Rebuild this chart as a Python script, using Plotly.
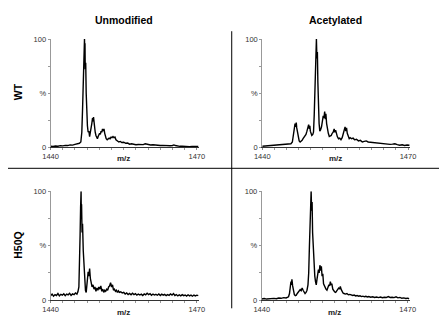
import plotly.graph_objects as go

# ---------------- data (m/z, relative intensity %) ----------------
COL_TITLES = ["Unmodified", "Acetylated"]
ROW_TITLES = ["WT", "H50Q"]
X_TICKS = [1440, 1470]
Y_TICK_LABELS = ["0", "", "%", "", "100"]
Y_TICK_VALS = [0, 25, 50, 75, 100]

WT_UNMOD = [
    (1440.0, 1.0), (1440.5, 0.8), (1441.0, 1.3), (1441.5, 1.1), (1442.0, 1.6), (1442.5, 1.4),
    (1443.0, 1.9), (1443.5, 1.7), (1444.0, 2.3), (1444.5, 2.1), (1445.0, 2.8), (1445.5, 3.0),
    (1445.9, 3.8), (1446.2, 5.0), (1446.4, 14), (1446.55, 35), (1446.7, 62), (1446.8, 80),
    (1446.9, 93), (1446.95, 100), (1447.0, 88), (1447.05, 96), (1447.1, 72), (1447.2, 78),
    (1447.3, 50), (1447.4, 34), (1447.55, 20), (1447.7, 14), (1447.85, 15), (1448.0, 10),
    (1448.15, 13), (1448.3, 18), (1448.45, 22), (1448.6, 27), (1448.7, 24), (1448.8, 28),
    (1448.9, 22), (1449.0, 19), (1449.15, 14), (1449.3, 11), (1449.45, 9), (1449.6, 8),
    (1449.75, 10), (1449.9, 11), (1450.05, 13), (1450.2, 12), (1450.35, 15), (1450.5, 14),
    (1450.65, 17), (1450.8, 15), (1450.95, 17), (1451.1, 13), (1451.25, 10), (1451.4, 8),
    (1451.6, 7), (1451.8, 7.5), (1452.0, 8.5), (1452.2, 8), (1452.4, 9.5), (1452.6, 9),
    (1452.8, 10), (1453.0, 9), (1453.2, 9.5), (1453.4, 7), (1453.7, 6), (1454.0, 5),
    (1454.3, 5.5), (1454.6, 4.5), (1455.0, 4.8), (1455.4, 3.8), (1455.8, 4), (1456.2, 3),
    (1456.6, 3.3), (1457.0, 2.8), (1457.5, 2.5), (1458.0, 2.7), (1458.5, 2.4), (1459.0, 2.6),
    (1459.4, 3.3), (1459.7, 3.0), (1460.0, 2.5), (1460.5, 2.2), (1461.0, 2.4), (1461.5, 2.0),
    (1462.0, 2.1), (1462.5, 1.8), (1463.0, 1.9), (1463.5, 1.6), (1464.0, 1.7), (1464.5, 1.5),
    (1465.0, 1.8), (1465.3, 2.3), (1465.6, 1.7), (1466.0, 1.3), (1466.5, 1.0), (1467.0, 1.1),
    (1467.5, 0.8), (1468.0, 0.9), (1468.5, 0.7), (1469.0, 0.9), (1469.5, 0.8), (1470.0, 1.0),
    (1470.3, 0.9),
]

WT_ACET = [
    (1440.0, 1.0), (1440.5, 1.2), (1441.0, 1.4), (1441.5, 1.3), (1442.0, 1.7), (1442.5, 1.6),
    (1443.0, 2.0), (1443.5, 1.9), (1444.0, 2.3), (1444.5, 2.4), (1445.0, 2.7), (1445.5, 2.9),
    (1445.9, 3.4), (1446.2, 5.0), (1446.4, 10), (1446.6, 17), (1446.75, 22), (1446.9, 19),
    (1447.0, 23), (1447.1, 18), (1447.25, 14), (1447.4, 9), (1447.6, 6), (1447.8, 5),
    (1448.0, 5.5), (1448.2, 6.5), (1448.4, 8), (1448.6, 9.5), (1448.8, 11), (1449.0, 12),
    (1449.2, 15), (1449.4, 18), (1449.55, 21), (1449.7, 17), (1449.8, 20), (1449.9, 15),
    (1450.05, 13), (1450.2, 11), (1450.4, 12), (1450.55, 14), (1450.7, 30), (1450.85, 60),
    (1450.95, 85), (1451.05, 95), (1451.15, 100), (1451.25, 82), (1451.35, 88), (1451.45, 60),
    (1451.55, 40), (1451.7, 22), (1451.85, 15), (1452.0, 16), (1452.2, 19), (1452.4, 24),
    (1452.55, 29), (1452.7, 27), (1452.85, 33), (1453.0, 26), (1453.1, 31), (1453.25, 22),
    (1453.4, 17), (1453.6, 13), (1453.8, 10), (1454.0, 10.5), (1454.2, 11), (1454.4, 13),
    (1454.6, 14), (1454.8, 17), (1454.95, 14), (1455.1, 16), (1455.25, 12), (1455.45, 10),
    (1455.7, 8), (1455.95, 8.5), (1456.2, 7), (1456.45, 9), (1456.7, 13), (1456.9, 16),
    (1457.05, 19), (1457.2, 15), (1457.35, 18), (1457.5, 13), (1457.7, 10), (1457.9, 8),
    (1458.1, 9), (1458.4, 8), (1458.7, 8.5), (1459.0, 7), (1459.4, 7.5), (1459.8, 6),
    (1460.2, 6.5), (1460.6, 5), (1461.0, 5.5), (1461.4, 6), (1461.8, 5), (1462.2, 4.8),
    (1462.6, 4.2), (1463.0, 4.5), (1463.4, 4.3), (1463.8, 3.5), (1464.3, 3.2), (1464.8, 3.4),
    (1465.3, 2.7), (1465.8, 2.5), (1466.3, 2.8), (1466.8, 3.0), (1467.3, 3.3), (1467.8, 2.6),
    (1468.3, 2.0), (1468.8, 2.4), (1469.3, 1.8), (1469.8, 2.2), (1470.3, 2.0),
]

H50Q_UNMOD = [
    (1440.0, 4.0), (1440.3, 5.5), (1440.6, 3.5), (1440.9, 5.0), (1441.2, 4.2), (1441.5, 6.0),
    (1441.8, 3.8), (1442.1, 5.2), (1442.4, 4.5), (1442.7, 5.8), (1443.0, 4.0), (1443.3, 5.5),
    (1443.6, 4.8), (1443.9, 6.2), (1444.2, 4.3), (1444.5, 5.6), (1444.8, 5.0), (1445.1, 6.5),
    (1445.4, 5.5), (1445.6, 7.5), (1445.8, 12), (1445.95, 30), (1446.05, 60), (1446.15, 85),
    (1446.25, 100), (1446.3, 75), (1446.35, 88), (1446.45, 62), (1446.55, 70), (1446.7, 45),
    (1446.85, 30), (1447.0, 18), (1447.15, 9), (1447.3, 7), (1447.5, 14), (1447.7, 26),
    (1447.85, 22), (1448.0, 29), (1448.15, 20), (1448.3, 17), (1448.5, 12), (1448.7, 14),
    (1448.9, 10), (1449.1, 12), (1449.3, 8), (1449.5, 11), (1449.7, 9), (1449.9, 12),
    (1450.1, 10), (1450.3, 13), (1450.5, 8), (1450.7, 10), (1450.9, 7), (1451.1, 9),
    (1451.3, 8), (1451.5, 10), (1451.7, 9), (1451.9, 12), (1452.1, 13), (1452.3, 16),
    (1452.5, 12), (1452.7, 14), (1452.9, 9), (1453.1, 10), (1453.3, 8), (1453.5, 9),
    (1453.7, 7), (1453.9, 8.5), (1454.1, 7), (1454.4, 7.5), (1454.7, 6.5), (1455.0, 7),
    (1455.3, 5.5), (1455.6, 6.5), (1455.9, 5), (1456.2, 6), (1456.5, 4.8), (1456.8, 6.2),
    (1457.1, 5), (1457.4, 5.8), (1457.7, 4.5), (1458.0, 5.5), (1458.3, 4.6), (1458.6, 5.4),
    (1458.9, 4.2), (1459.2, 5.6), (1459.5, 4.8), (1459.8, 6.2), (1460.1, 5), (1460.4, 5.8),
    (1460.7, 4.4), (1461.0, 5.5), (1461.3, 4.6), (1461.6, 5.2), (1461.9, 4.4), (1462.2, 5.6),
    (1462.5, 4.2), (1462.8, 5.4), (1463.1, 4.5), (1463.4, 5.2), (1463.7, 4.0), (1464.0, 5.0),
    (1464.3, 4.3), (1464.6, 5.6), (1464.9, 4.5), (1465.2, 6.0), (1465.5, 4.2), (1465.8, 5.0),
    (1466.1, 3.8), (1466.4, 4.8), (1466.7, 3.9), (1467.0, 5.0), (1467.3, 4.0), (1467.6, 4.6),
    (1467.9, 3.6), (1468.2, 4.8), (1468.5, 3.8), (1468.8, 4.5), (1469.1, 3.5), (1469.4, 4.6),
    (1469.7, 3.8), (1470.0, 4.5), (1470.3, 4.0),
]

H50Q_ACET = [
    (1440.0, 1.0), (1440.5, 1.4), (1441.0, 0.9), (1441.5, 1.3), (1442.0, 1.1), (1442.5, 1.5),
    (1443.0, 1.2), (1443.5, 1.9), (1444.0, 1.6), (1444.5, 2.2), (1445.0, 1.9), (1445.3, 2.4),
    (1445.5, 3.0), (1445.7, 6), (1445.85, 12), (1446.0, 17), (1446.1, 14), (1446.2, 19),
    (1446.35, 13), (1446.5, 9), (1446.7, 5), (1446.9, 4), (1447.1, 4.5), (1447.3, 6),
    (1447.5, 7.5), (1447.7, 8), (1447.9, 9.5), (1448.1, 8.5), (1448.3, 11), (1448.5, 9),
    (1448.7, 7), (1448.9, 6), (1449.1, 7), (1449.3, 9), (1449.5, 14), (1449.65, 25),
    (1449.8, 50), (1449.95, 78), (1450.05, 90), (1450.15, 100), (1450.25, 82), (1450.35, 90),
    (1450.45, 62), (1450.6, 45), (1450.75, 33), (1450.9, 22), (1451.05, 17), (1451.2, 14),
    (1451.35, 19), (1451.5, 24), (1451.65, 28), (1451.8, 25), (1451.95, 32), (1452.1, 27),
    (1452.25, 31), (1452.4, 22), (1452.55, 24), (1452.7, 15), (1452.85, 13), (1453.0, 11),
    (1453.2, 10), (1453.4, 9), (1453.6, 11), (1453.8, 14), (1453.95, 13), (1454.1, 17),
    (1454.25, 14), (1454.4, 15), (1454.6, 10), (1454.8, 8), (1455.0, 7.5), (1455.2, 7),
    (1455.4, 8), (1455.6, 10), (1455.8, 11), (1456.0, 10), (1456.15, 12.5), (1456.3, 10),
    (1456.5, 8), (1456.7, 6.5), (1456.9, 6), (1457.2, 5.5), (1457.5, 6), (1457.8, 4.8),
    (1458.1, 5.2), (1458.4, 4.5), (1458.7, 4.2), (1459.0, 4.6), (1459.3, 3.8), (1459.6, 4.2),
    (1459.9, 3.5), (1460.2, 3.9), (1460.5, 3.2), (1460.8, 3.6), (1461.1, 3.0), (1461.4, 3.4),
    (1461.7, 2.8), (1462.0, 3.2), (1462.4, 2.6), (1462.8, 3.0), (1463.2, 2.4), (1463.6, 2.8),
    (1464.0, 2.2), (1464.4, 2.7), (1464.8, 2.1), (1465.2, 2.6), (1465.6, 2.3), (1466.0, 3.2),
    (1466.4, 2.4), (1466.8, 2.6), (1467.2, 2.2), (1467.6, 2.9), (1468.0, 2.0), (1468.4, 2.4),
    (1468.8, 1.6), (1469.2, 2.0), (1469.6, 1.4), (1470.0, 1.7), (1470.3, 1.2),
]

SPECTRA = [WT_UNMOD, WT_ACET, H50Q_UNMOD, H50Q_ACET]

# ---------------- layout geometry (pixels) ----------------
W, H = 445, 324
# (x_left, x_right, y_top(100%), y_bottom(0%)) in pixels
PANELS = [
    (44, 197, 36, 147.5),
    (262.5, 415, 36, 147.5),
    (44, 197, 192.5, 304.5),
    (262, 414.7, 192.5, 304.5),
]

def px(x):
    return x / W

def py(y):
    return 1 - y / H

FONT = "Liberation Sans, Arial, sans-serif"

fig = go.Figure()
layout = dict(
    width=W, height=H,
    margin=dict(l=0, r=0, t=0, b=0),
    paper_bgcolor="white", plot_bgcolor="white",
    showlegend=False,
    font=dict(family=FONT, color="#222"),
)

for i, (spec, (xl, xr, yt, yb)) in enumerate(zip(SPECTRA, PANELS)):
    n = "" if i == 0 else str(i + 1)
    mz = [p[0] for p in spec]
    inten = [p[1] for p in spec]
    fig.add_trace(go.Scatter(
        x=mz, y=inten, mode="lines",
        line=dict(color="black", width=1.4),
        xaxis="x" + n, yaxis="y" + n, hoverinfo="skip",
    ))
    layout["xaxis" + n] = dict(
        domain=[px(xl), px(xr)], range=[1440, 1470.4], anchor="y" + n,
        tickmode="array", tickvals=X_TICKS, ticktext=[str(t) for t in X_TICKS],
        ticks="outside", ticklen=2, tickcolor="#888", tickwidth=1,
        minor=dict(tickmode="linear", tick0=1440, dtick=2.5, ticks="outside",
                   ticklen=2, tickcolor="#999"),
        showline=True, linecolor="#333", linewidth=1,
        showgrid=False, zeroline=False,
        tickfont=dict(size=7.5, color="#333", family=FONT),
    )
    layout["yaxis" + n] = dict(
        domain=[py(yb), py(yt)], range=[0, 100], anchor="x" + n,
        tickmode="array", tickvals=Y_TICK_VALS, ticktext=Y_TICK_LABELS,
        ticks="outside", ticklen=2, tickcolor="#999", tickwidth=1,
        showline=True, linecolor="#999", linewidth=1,
        showgrid=False, zeroline=False,
        tickfont=dict(size=7.5, color="#333", family=FONT),
    )

annotations = []
# column titles
for title, cx in zip(COL_TITLES, [120, 338]):
    annotations.append(dict(
        text="<b>%s</b>" % title, x=px(cx), y=py(16), xref="paper", yref="paper",
        showarrow=False, xanchor="center", yanchor="middle",
        font=dict(size=10.5, color="black", family=FONT)))
# row titles
for title, cy in zip(ROW_TITLES, [90, 248]):
    annotations.append(dict(
        text="<b>%s</b>" % title, x=px(10), y=py(cy), xref="paper", yref="paper",
        showarrow=False, xanchor="center", yanchor="middle", textangle=-90,
        font=dict(size=10.5, color="black", family=FONT)))
# m/z labels
for cx, cy in [(119, 159), (338, 159), (119, 317), (337, 317)]:
    annotations.append(dict(
        text="<b>m/z</b>", x=px(cx), y=py(cy), xref="paper", yref="paper",
        showarrow=False, xanchor="center", yanchor="middle",
        font=dict(size=8, color="#222", family=FONT)))
layout["annotations"] = annotations

layout["shapes"] = [
    dict(type="line", xref="paper", yref="paper", x0=0, x1=1, y0=py(169), y1=py(169),
         line=dict(color="black", width=1)),
    dict(type="line", xref="paper", yref="paper", x0=px(231), x1=px(231), y0=py(28), y1=py(313),
         line=dict(color="black", width=1)),
]

fig.update_layout(**layout)
fig.write_html("out.html")
